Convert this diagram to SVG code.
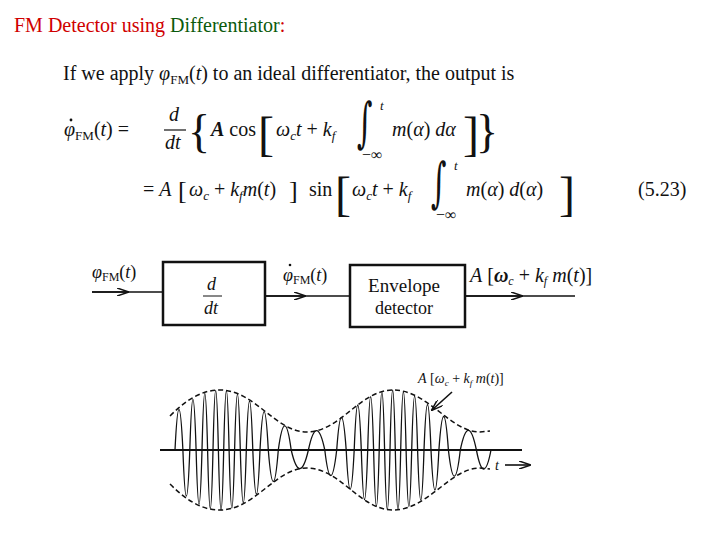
<svg xmlns="http://www.w3.org/2000/svg" width="720" height="540" viewBox="0 0 720 540">
<defs>
<style>
text{font-family:"Liberation Serif","DejaVu Serif",serif;fill:#111}
.i{font-style:italic}
.b{font-weight:bold}
.int{font-family:"DejaVu Serif",serif;font-weight:200}
.ln{stroke:#111;stroke-width:1.6;fill:none}
.box{stroke:#111;stroke-width:2.5;fill:none}
.dash{stroke:#111;stroke-width:1.5;fill:none;stroke-dasharray:5 3}
</style>
<marker id="ah" viewBox="0 0 12 8" refX="11" refY="4" markerWidth="12" markerHeight="8" markerUnits="userSpaceOnUse" orient="auto"><path d="M0,0 L12,4 L0,8" fill="none" stroke="#111" stroke-width="1.5"/></marker>
</defs>
<rect width="720" height="540" fill="#fff"/>
<text x="14" y="32" font-size="20"><tspan fill="#d00000">FM Detector using </tspan><tspan fill="#0b5a0b">Differentiator</tspan><tspan fill="#d00000">:</tspan></text>

<g id="intro"><text x="63" y="80" font-size="20">If we apply <tspan class="i">φ</tspan><tspan font-size="13" dy="4">FM</tspan><tspan dy="-4">(</tspan><tspan class="i">t</tspan>) to an ideal differentiator, the output is</text></g>

<g id="eq1" font-size="20">
<text x="64" y="136"><tspan class="i">φ</tspan><tspan font-size="13" dy="4">FM</tspan><tspan dy="-4">(</tspan><tspan class="i">t</tspan>) =</text>
<circle cx="71" cy="120" r="1.4" fill="#111"/>
<text x="169" y="121" class="i">d</text>
<line x1="164" y1="130" x2="186" y2="130" stroke="#111" stroke-width="1.2"/>
<text x="165" y="149" class="i">dt</text>
<text x="188" y="147" font-size="46" font-weight="200">{</text>
<text x="211" y="136"><tspan class="i b">A</tspan> cos</text>
<text x="258" y="150" font-size="48" font-weight="200">[</text>
<text x="276" y="136" class="i">ω<tspan font-size="13" dy="4">c</tspan><tspan dy="-4">t</tspan> <tspan font-style="normal">+</tspan> k<tspan font-size="13" dy="4">f</tspan></text>
<text class="int" font-size="30" transform="translate(357,141) scale(1,1.8)">∫</text>
<text x="380" y="110" font-size="13" class="i">t</text>
<text x="362" y="160" font-size="16">−∞</text>
<text x="392" y="136" class="i">m<tspan font-style="normal">(</tspan>α<tspan font-style="normal">)</tspan> dα</text>
<text x="463" y="150" font-size="48" font-weight="200">]</text>
<text x="476" y="147" font-size="46" font-weight="200">}</text>
</g>

<g id="eq2" font-size="20">
<text x="143" y="196">= <tspan class="i">A</tspan></text>
<text x="178" y="199" font-size="26">[</text>
<text x="189" y="196" class="i">ω<tspan font-size="13" dy="4">c</tspan><tspan dy="-4"> </tspan><tspan font-style="normal">+</tspan> k<tspan font-size="13" dy="4">f</tspan><tspan dy="-4">m</tspan><tspan font-style="normal">(</tspan>t<tspan font-style="normal">)</tspan></text>
<text x="289" y="199" font-size="26">]</text>
<text x="309" y="196">sin</text>
<text x="335" y="210" font-size="48" font-weight="200">[</text>
<text x="352" y="196" class="i">ω<tspan font-size="13" dy="4">c</tspan><tspan dy="-4">t</tspan> <tspan font-style="normal">+</tspan> k<tspan font-size="13" dy="4">f</tspan></text>
<text class="int" font-size="30" transform="translate(431,201) scale(1,1.8)">∫</text>
<text x="454" y="170" font-size="13" class="i">t</text>
<text x="436" y="220" font-size="16">−∞</text>
<text x="466" y="196" class="i">m<tspan font-style="normal">(</tspan>α<tspan font-style="normal">)</tspan> d<tspan font-style="normal">(</tspan>α<tspan font-style="normal">)</tspan></text>
<text x="559" y="210" font-size="48" font-weight="200">]</text>
<text x="638" y="196">(5.23)</text>
</g>

<g id="connectors">
<line class="ln" x1="92" y1="292" x2="163" y2="292"/>
<line class="ln" x1="92" y1="292" x2="128" y2="292" marker-end="url(#ah)"/>
<line class="ln" x1="265" y1="296" x2="350" y2="296"/>
<line class="ln" x1="265" y1="296" x2="305" y2="296" marker-end="url(#ah)"/>
<line class="ln" x1="465" y1="296" x2="575" y2="296"/>
<line class="ln" x1="465" y1="296" x2="522" y2="296" marker-end="url(#ah)"/>
</g>
<g id="in-label"><text x="92" y="278" font-size="18"><tspan class="i">φ</tspan><tspan font-size="12" dy="3">FM</tspan><tspan dy="-3">(</tspan><tspan class="i">t</tspan>)</text></g>
<g id="diff">
<rect class="box" x="163" y="262" width="102" height="63"/>
<text x="207" y="290" font-size="18" class="i">d</text>
<line x1="203" y1="296" x2="222" y2="296" stroke="#111" stroke-width="1"/>
<text x="204" y="314" font-size="18" class="i">dt</text>
</g>
<g id="mid-label"><text x="283" y="281" font-size="18"><tspan class="i">φ</tspan><tspan font-size="12" dy="3">FM</tspan><tspan dy="-3">(</tspan><tspan class="i">t</tspan>)</text><circle cx="290" cy="265" r="1.3" fill="#111"/></g>
<g id="env">
<rect class="box" x="350" y="265" width="115" height="62"/>
<text x="404" y="292" font-size="19" text-anchor="middle">Envelope</text>
<text x="404" y="314" font-size="18" text-anchor="middle">detector</text>
</g>
<g id="out-label"><text x="470" y="282" font-size="20"><tspan class="i">A</tspan> [<tspan class="i b">ω</tspan><tspan font-size="12" class="i" dy="3">c</tspan><tspan dy="-3"> + </tspan><tspan class="i">k</tspan><tspan font-size="12" class="i" dy="3">f</tspan><tspan dy="-3" class="i"> m</tspan>(<tspan class="i">t</tspan>)]</text></g>

<g id="waveform">
<line x1="160" y1="450" x2="522" y2="450" stroke="#111" stroke-width="2"/>
<path class="dash" d="M170,416 C190,396 205,390 220,390 C255,390 275,432 307,432 C340,432 360,390 393,390 C428,390 450,432 480,432 L490,431"/>
<path class="dash" d="M170,484 C190,504 205,510 220,510 C255,510 275,468 307,468 C340,468 360,510 393,510 C428,510 450,468 480,468 L490,469"/>
<path fill="none" stroke="#111" stroke-width="1.3" d="M175,450 Q179,368.6 182.9,450 Q186.35,542.4 189.8,450 Q192.95,348.6 196.1,450 Q199.05,558.4 202,450 Q204.8,336.2 207.6,450 Q210.3,567.4 213,450 Q215.7,330.6 218.4,450 Q221.05,570 223.7,450 Q226.4,331.2 229.1,450 Q231.85,566.2 234.6,450 Q237.45,338.2 240.3,450 Q243.3,555.8 246.3,450 Q249.55,352 252.8,450 Q256.4,538.4 260,450 Q264.15,373.4 268.3,450 Q273.3,513 278.3,450 Q284.75,401.6 291.2,450 Q299.8,487.2 308.4,450 Q316.6,411.2 324.8,450 Q330.75,501.2 336.7,450 Q341.45,384.6 346.2,450 Q350.2,528.6 354.2,450 Q357.75,360 361.3,450 Q364.5,549.4 367.7,450 Q370.65,343.2 373.6,450 Q376.4,562.6 379.2,450 Q381.9,333.2 384.6,450 Q387.3,569.2 390,450 Q392.65,330 395.3,450 Q398,569.2 400.7,450 Q403.4,333 406.1,450 Q408.9,563.2 411.7,450 Q414.65,342.4 417.6,450 Q420.8,550.4 424,450 Q427.5,359 431,450 Q434.95,530 438.9,450 Q443.65,383 448.4,450 Q454.35,502.4 460.3,450 Q468.35,410.6 476.4,450 Q483.7,488 491,450"/>
<text x="495" y="470" font-size="14" class="i">t</text>
<line class="ln" x1="505" y1="465" x2="530" y2="465" stroke-width="1.2" marker-end="url(#ah)"/>
<text x="418" y="383" font-size="14"><tspan class="i">A</tspan> [<tspan class="i">ω</tspan><tspan font-size="9" class="i" dy="3">c</tspan><tspan dy="-3"> + </tspan><tspan class="i">k</tspan><tspan font-size="9" class="i" dy="3">f</tspan><tspan dy="-3" class="i"> m</tspan>(<tspan class="i">t</tspan>)]</text>
<line class="ln" x1="452" y1="392" x2="432" y2="410" stroke-width="1.2" marker-end="url(#ah)"/>
</g>
</svg>
